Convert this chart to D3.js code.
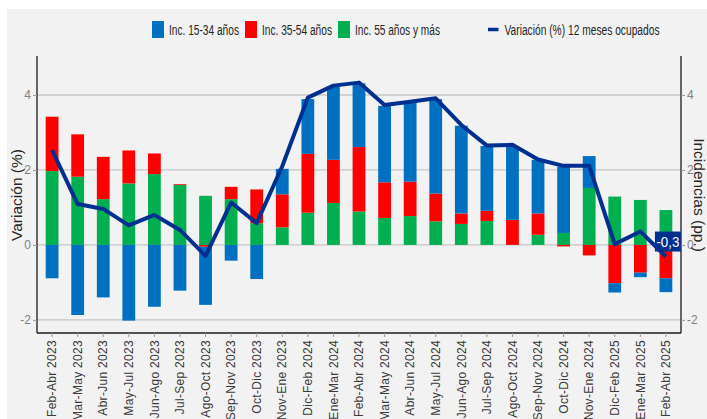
<!DOCTYPE html>
<html lang="es">
<head>
<meta charset="UTF-8">
<title>Variación ocupados por edad</title>
<script src="https://cdn.jsdelivr.net/npm/d3@7"></script>
<style>
  html, body { margin: 0; padding: 0; background: #fff; }
  svg { display: block; }
  .tick text { font-family: "Liberation Sans", Arial, sans-serif; }
</style>
</head>
<body>
<svg id="chart" width="707" height="419"></svg>
<script>
// periodos móviles
var categorias = ["Feb-Abr 2023","Mar-May 2023","Abr-Jun 2023","May-Jul 2023","Jun-Ago 2023","Jul-Sep 2023",
  "Ago-Oct 2023","Sep-Nov 2023","Oct-Dic 2023","Nov-Ene 2023","Dic-Feb 2024","Ene-Mar 2024","Feb-Abr 2024",
  "Mar-May 2024","Abr-Jun 2024","May-Jul 2024","Jun-Ago 2024","Jul-Sep 2024","Ago-Oct 2024","Sep-Nov 2024",
  "Oct-Dic 2024","Nov-Ene 2024","Dic-Feb 2025","Ene-Mar 2025","Feb-Abr 2025"];

// incidencias (pp.)
var inc1534 = [-0.89,-1.87,-1.40,-2.02,-1.65,-1.22,-1.55,-0.42,-0.91,0.68,1.46,1.95,1.70,2.04,2.10,2.52,2.34,1.73,1.95,1.43,1.77,0.85,-0.25,-0.12,-0.37];
var inc3554 = [1.45,1.13,1.13,0.88,0.55,0.02,-0.05,0.33,0.90,0.88,1.57,1.15,1.72,0.95,0.92,0.74,0.28,0.27,0.67,0.57,-0.04,-0.28,-1.02,-0.74,-0.89];
var inc55 = [1.97,1.82,1.22,1.64,1.89,1.60,1.31,1.22,0.58,0.47,0.86,1.12,0.89,0.72,0.77,0.63,0.56,0.64,0.00,0.27,0.32,1.52,1.29,1.20,0.93];

// variación (%) 12 meses ocupados
var variacion = [2.53,1.09,0.96,0.52,0.80,0.40,-0.29,1.13,0.58,2.10,3.93,4.25,4.33,3.73,3.82,3.91,3.20,2.65,2.67,2.28,2.11,2.11,0.02,0.36,-0.31];

var yTicks = [-2, 0, 2, 4];

var series = [
  {key: "g55", nombre: "Inc. 55 años y más", color: "#00B050", vals: inc55},
  {key: "g3554", nombre: "Inc. 35-54 años", color: "#FF0000", vals: inc3554},
  {key: "g1534", nombre: "Inc. 15-34 años", color: "#0070C0", vals: inc1534}
];
var colorLinea = "#00308F";

var svg = d3.select("#chart");
var W = 707, H = 419;
var m = {left: 37, right: 681, top: 56, bottom: 333};

// fondo gris
svg.append("rect").attr("x", 7).attr("y", 9).attr("width", W - 7).attr("height", H - 9).attr("fill", "#F2F2F2");

var x = d3.scaleBand().domain(categorias).range([m.left, m.right]).paddingInner(0.5).paddingOuter(0.34);
var y = d3.scaleLinear().domain([-2.35, 5.04]).range([m.bottom, m.top]);

// rejilla
svg.append("g").selectAll("line").data(yTicks).enter().append("line")
  .attr("x1", m.left).attr("x2", m.right)
  .attr("y1", function(d) { return y(d); }).attr("y2", function(d) { return y(d); })
  .attr("stroke", "#C6C6C6").attr("stroke-width", 1.3);

// barras apiladas
var tabla = categorias.map(function(c, i) {
  var o = {cat: c};
  series.forEach(function(s) { o[s.key] = s.vals[i]; });
  return o;
});
var stack = d3.stack().keys(series.map(function(s) { return s.key; })).offset(d3.stackOffsetDiverging);
var capas = stack(tabla);

svg.append("g").selectAll("g").data(capas).enter().append("g")
  .attr("fill", function(d, i) { return series[i].color; })
  .selectAll("rect").data(function(d) { return d; }).enter().append("rect")
  .attr("x", function(d) { return x(d.data.cat); })
  .attr("width", x.bandwidth())
  .attr("y", function(d) { return y(Math.max(d[0], d[1])); })
  .attr("height", function(d) { return Math.abs(y(d[0]) - y(d[1])); });

// línea variación
var linea = d3.line()
  .x(function(d, i) { return x(categorias[i]) + x.bandwidth() / 2; })
  .y(function(d) { return y(d); });
svg.append("path").datum(variacion)
  .attr("d", linea).attr("fill", "none")
  .attr("stroke", colorLinea).attr("stroke-width", 4).attr("stroke-linejoin", "round");

// ejes (guion normal en los negativos, como el original)
var fmt = function(d) { return String(d); };
var ejeIzq = svg.append("g").attr("transform", "translate(" + m.left + ",0)")
  .call(d3.axisLeft(y).tickValues(yTicks).tickSize(4).tickPadding(2).tickFormat(fmt));
var ejeDer = svg.append("g").attr("transform", "translate(" + m.right + ",0)")
  .call(d3.axisRight(y).tickValues(yTicks).tickSize(4).tickPadding(2).tickFormat(fmt));
[ejeIzq, ejeDer].forEach(function(g) {
  g.select(".domain").attr("d", "M0," + m.top + "V" + m.bottom).attr("stroke", "#1a1a1a").attr("stroke-width", 1.3);
  g.selectAll(".tick line").attr("stroke", "#9a9a9a");
  g.selectAll(".tick text").attr("fill", "#808080").style("font-size", "12px");
});

var ejeX = svg.append("g").attr("transform", "translate(0," + m.bottom + ")")
  .call(d3.axisBottom(x).tickSize(4).tickSizeOuter(0));
ejeX.select(".domain").attr("d", "M" + m.left + ",0H" + m.right).attr("stroke", "#1a1a1a").attr("stroke-width", 1.3);
ejeX.selectAll(".tick line").attr("stroke", "#9a9a9a");
ejeX.selectAll(".tick text")
  .attr("transform", "rotate(-90)")
  .attr("text-anchor", "end")
  .attr("x", -7).attr("y", 0).attr("dy", "0.35em")
  .attr("fill", "#3a3a3a").style("font-size", "12px").style("letter-spacing", "0.3px");

// títulos de ejes
svg.append("text").text("Variación (%)")
  .attr("transform", "translate(22,195) rotate(-90)")
  .attr("text-anchor", "middle")
  .style("font-family", "Liberation Sans, Arial, sans-serif").style("font-size", "15.5px").attr("fill", "#262626");
svg.append("text").text("Incidencias (pp.)")
  .attr("transform", "translate(694,195) rotate(90)")
  .attr("text-anchor", "middle")
  .style("font-family", "Liberation Sans, Arial, sans-serif").style("font-size", "15.5px").attr("fill", "#262626");

// etiqueta del último valor
var ult = variacion.length - 1;
var ex = x(categorias[ult]) + x.bandwidth() / 2 + 2, ey = y(variacion[ult]) - 15;
svg.append("rect").attr("x", ex - 13).attr("y", ey - 10).attr("width", 26).attr("height", 20)
  .attr("fill", colorLinea);
svg.append("text").text(variacion[ult].toFixed(1).replace(".", ","))
  .attr("x", ex).attr("y", ey + 5.5).attr("text-anchor", "middle")
  .attr("textLength", 23).attr("lengthAdjust", "spacingAndGlyphs")
  .style("font-family", "Liberation Sans Narrow, Arial Narrow, sans-serif").style("font-size", "15px").attr("fill", "#fff");

// leyenda
var leyenda = [
  {tipo: "rect", nombre: series[2].nombre, color: series[2].color, x: 152, w: 70},
  {tipo: "rect", nombre: series[1].nombre, color: series[1].color, x: 245, w: 70},
  {tipo: "rect", nombre: series[0].nombre, color: series[0].color, x: 338, w: 85},
  {tipo: "line", nombre: "Variación (%) 12 meses ocupados", color: colorLinea, x: 488, w: 155}
];
var lg = svg.append("g").selectAll("g").data(leyenda).enter().append("g")
  .attr("transform", function(d) { return "translate(" + d.x + ",0)"; });
lg.filter(function(d) { return d.tipo === "rect"; }).append("rect")
  .attr("x", 0).attr("y", 21).attr("width", 12).attr("height", 17).attr("fill", function(d) { return d.color; });
lg.filter(function(d) { return d.tipo === "line"; }).append("line")
  .attr("x1", 0).attr("x2", 10.5).attr("y1", 29.5).attr("y2", 29.5)
  .attr("stroke", function(d) { return d.color; }).attr("stroke-width", 3.5);
lg.append("text").text(function(d) { return d.nombre; })
  .attr("x", function(d) { return d.tipo === "rect" ? 17 : 16.5; })
  .attr("y", 35)
  .attr("textLength", function(d) { return d.w; }).attr("lengthAdjust", "spacingAndGlyphs")
  .style("font-family", "Liberation Sans Narrow, Arial Narrow, sans-serif").style("font-size", "14px")
  .attr("fill", "#262626");
</script>
</body>
</html>
